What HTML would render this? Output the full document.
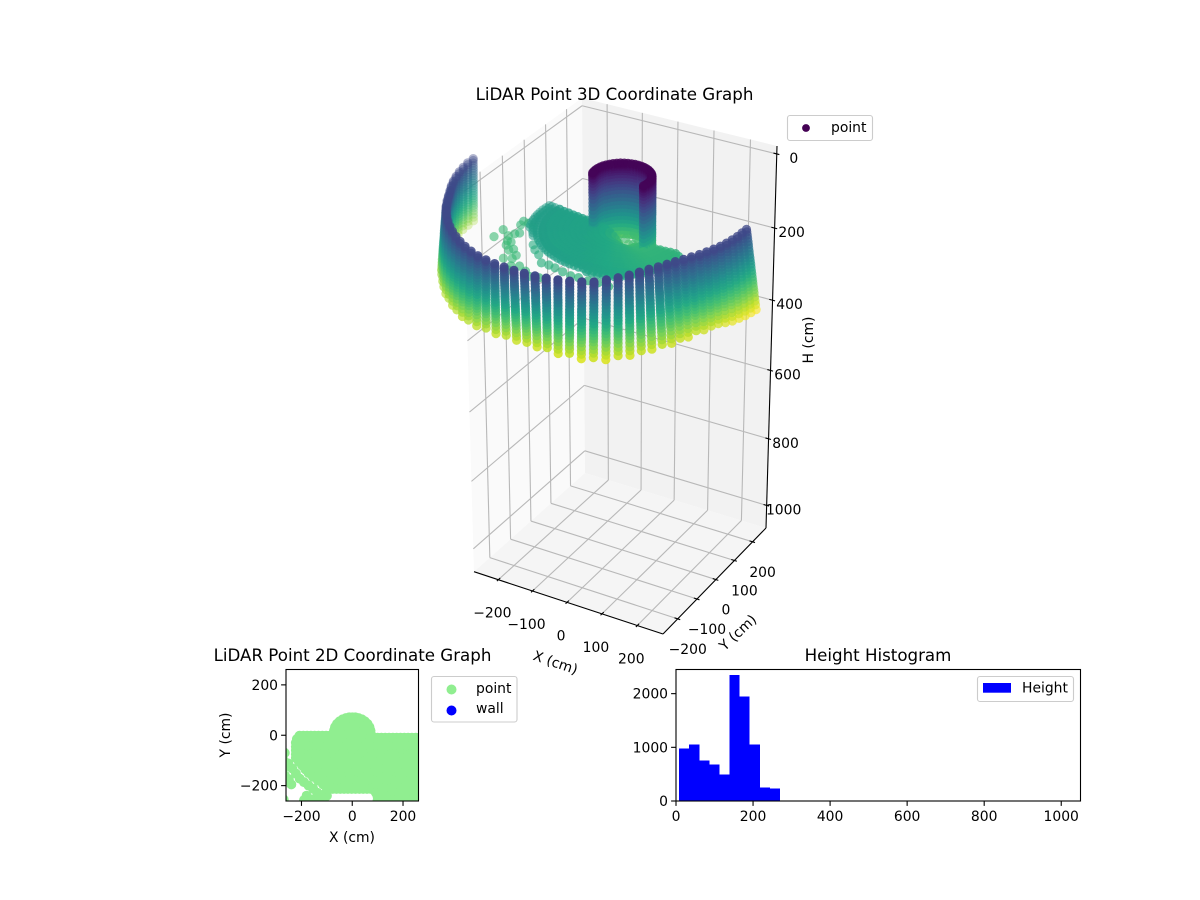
<!DOCTYPE html>
<html>
<head>
<meta charset="utf-8">
<title>LiDAR Point Graphs</title>
<style>
html,body{margin:0;padding:0;background:#fff;width:1200px;height:900px;overflow:hidden}
svg{display:block}
text{font-family:"DejaVu Sans","Liberation Sans",sans-serif;font-size:13.9px;fill:#000}
.title{font-size:16.67px}
</style>
</head>
<body>
<svg id="fig" xmlns="http://www.w3.org/2000/svg" width="1200" height="900" viewBox="0 0 1200 900">
  <defs>
    <clipPath id="clip2d"><rect x="286" y="669.5" width="132.5" height="131.5"/></clipPath>
  </defs>
  <g id="g3d"></g>
  <text class="title" x="614.5" y="100" text-anchor="middle">LiDAR Point 3D Coordinate Graph</text>
  <text text-anchor="middle" transform="translate(554,667) rotate(19)">X (cm)</text>
  <text text-anchor="middle" transform="translate(741,636) rotate(-43)">Y (cm)</text>
  <text text-anchor="middle" transform="translate(813,340) rotate(-90)">H (cm)</text>
  <g>
    <rect x="787.5" y="115.5" width="85" height="25" rx="2.5" fill="#fff" fill-opacity="0.8" stroke="#ccc" stroke-width="1.1"/>
    <circle cx="806" cy="128" r="3.9" fill="#440154"/>
    <text x="831" y="132">point</text>
  </g>

  <g id="g2d"></g>
  <text class="title" x="352.5" y="661" text-anchor="middle">LiDAR Point 2D Coordinate Graph</text>
  <text x="352" y="842" text-anchor="middle">X (cm)</text>
  <text text-anchor="middle" transform="translate(230,735) rotate(-90)">Y (cm)</text>
  <g>
    <rect x="431.5" y="676.5" width="85.5" height="45.5" rx="2.5" fill="#fff" stroke="#ccc" stroke-width="1.1"/>
    <circle cx="451.5" cy="689.5" r="5" fill="#90ee90"/>
    <text x="476" y="693">point</text>
    <circle cx="451.5" cy="710.5" r="5" fill="#0000ff"/>
    <text x="476" y="713">wall</text>
  </g>

  <g id="ghist"></g>
  <text class="title" x="878" y="661" text-anchor="middle">Height Histogram</text>
  <g>
    <rect x="977.5" y="676.5" width="96" height="25" rx="2.5" fill="#fff" fill-opacity="0.8" stroke="#ccc" stroke-width="1.1"/>
    <rect x="983" y="683" width="28" height="9.7" fill="#0000ff"/>
    <text x="1022" y="692.5">Height</text>
  </g>
</svg>
<script>
// ---------- chart data ----------
const tickValuesX = [-200, -100, 0, 100, 200];
const tickValuesY = [-200, -100, 0, 100, 200];
const tickValuesH = [0, 200, 400, 600, 800, 1000];
const limX3d = [-272, 272];
const limY3d = [-275, 275];
const limH3d = [-21, 1069];

// wall: one vertical scan column per azimuth
const wallAzimuths = [-180,-176.4,-172.8,-169.2,-165.6,-162,-158.4,-154.8,-151.2,-147.6,-144,-140.4,-136.8,-133.2,-129.6,-126,-122.4,-118.8,-115.2,-111.6,-108,-104.4,-100.8,-97.2,-93.6,-90,-86.4,-82.8,-79.2,-75.6,-72,-68.4,-64.8,-61.2,-57.6,-54,-50.4,-46.8,-43.2,-39.6,-36,-32.4,-28.8,-25.2,-21.6,-18,-14.4,-10.8,-7.2,-3.6,0];
const wallRangeTop = [420,420,419,418,417,416,415,414,415,417,420,422,425,428,431,434,437,440,443,445,447,447,447,446,446,445,445,444,442,440,437,433,420,408,396,383,372,365,358,352,349,346,345,343,342,341,340,339,338,337,337];
const wallRangeBottom = [424,424,425,426,426,427,428,429,431,433,436,438,440,443,446,448,451,454,456,458,456,452,448,444,441,440,441,444,447,449,450,450,446,440,432,423,412,405,396,386,378,372,368,365,363,362,363,364,365,366,367];
const wallHeightTop = [65];
const wallHeightBottom = [236,236,236,236,234,232,230,230,232,232,236,234,238,238,242,240,244,242,246,242,246,242,248,244,250,248,252,246,254,248,258,252,258,250,254,248,252,246,252,248,254,246,252,250,252,258,262,264,266,268,270];
const wallRowFractions = [0,0.03,0.07,0.11,0.15,0.19,0.23,0.27,0.31,0.35,0.39,0.43,0.47,0.51,0.55,0.59,0.63,0.67,0.71,0.75,0.79,0.84,0.89,0.94,1];

// floor fan
const floorAzimuths = [-187.2,-183.6,-180,-176.4,-172.8,-169.2,-165.6,-162,-158.4,-154.8,-151.2,-147.6,-144,-140.4,-136.8,-133.2,-129.6,-126,-122.4,-118.8,-115.2,-111.6,-108,-104.4,-100.8,-97.2,-93.6,-90,-86.4,-82.8,-79.2,-75.6,-72,-68.4,-64.8,-61.2,-57.6,-54,-50.4,-46.8,-43.2,-39.6,-36,-32.4,-28.8,-25.2,-21.6,-18,-14.4,-10.8,-7.2,-3.6,0];
const floorOuterRange = [224,225,225,225,224,224,224,224,224,222,218,216,214,212,212,212,212,212,212,212,212,212,212,212,212,212,212,212,212,214,214,214,216,216,216,214,212,208,202,196,192,188,186,184,182,180,178,176,174,172,168,162,156];
const floorBaseHeight = [155,155,155,155,155,155,155,155,155,155,155,155,156,156,156,156,157,157,157,157,157,157,158,158,158,159,159,160,160,161,162,163,164,165,166,167,168,169,170,171,172,173,174,174,175,175,175,175,175,175,175,175,175];
const floorRingRanges = [3,8,14,20,26,36,50,64,78,92,106,120,134,148,162,176,190,204,214,222,228];
const floorRingLift = [48,42,34,28,22,15,10,7,6,5,4,4,3,3,2,2,0,0,0,0,0];

// sparse scatter beyond the floor, plus the bright patch where the cylinder meets the floor
const sparseX = [-283,-285,-257,-255,-241,-245,-235,-255,-243,-234,-230,-205,-215,-183,-185,-206,-168,-162,-148,-122,-101,-75,-162,-145,-126,-101,-80,-62,-36,-12,9,37,62,91,-5,17,-23,10,30,-10,5,25];
const sparseY = [-86,-125,-33,-50,-36,-94,-88,-107,-131,-151,-135,-164,-170,-188,-203,-209,-236,-257,-230,-245,-263,-260,-144,-164,-178,-207,-207,-209,-217,-221,-220,-222,-219,-220,28,41,17,15,30,5,50,10];
const sparseH = [186,188,180,182,180,184,182,186,186,186,184,184,186,184,186,188,186,186,184,184,184,182,170,170,172,174,174,176,176,178,178,178,178,180,190,190,190,195,190,195,185,190];

// central cylinder
const cylinderAzimuths = [-14.4,-7.2,0,7.2,14.4,21.6,28.8,36,43.2,50.4,57.6,64.8,72,79.2,86.4,93.6,100.8,108,115.2,122.4,129.6,136.8,144,151.2,158.4,165.6,172.8,180,187.2,194.4];
const cylinderRange = [72];
const cylinderHeights = [10,14,18,24,30,38,46,54,62,70,80,90,100,110,120,130,140,150,160,170,180,190,200];

// 2D plan view: horizontal runs of points
const planRowY = [-2,-10,-15,-30,-45,-60,-75,-90,-105,-120,-135,-150,-165,-180,-195,-213,-228,-243,-258,-280,-228,-240];
const planRowStartX = [-208,85,-218,-222,-222,-222,-222,-222,-210,-197,-185,-172,-155,-135,-115,-92,93,100,100,-150,-104,-100];
const planRowEndX = [85,290,290,290,290,290,290,290,290,290,290,290,290,290,290,290,290,290,290,290,-95,-95];
const planColumnStep = [15];
const planBumpX = [-72,-68,-60,-50,-38,-25,-12,0,12,25,38,50,60,68,72,0,-40,40,-20,20,-50,-25,25,50,-30,30,-10,10,-55,55];
const planBumpY = [18,32,45,55,63,68,71,71,71,68,63,55,45,32,18,40,30,30,20,20,20,40,45,30,50,52,25,25,35,38];
const planExtraX = [-266,-270,-270,-252,-236,-222,-207,-190,-172,-154,-138,-121,-265,-250,-240,-180,-160,-140,-190,-270];
const planExtraY = [-70,-100,-130,-112,-132,-152,-172,-186,-200,-212,-228,-244,-160,-175,-195,-240,-255,-260,-258,-255];
const ticks2dX = [-200, 0, 200];
const ticks2dY = [-200, 0, 200];
const lim2d = [-261, 261];

// histogram
const histEdges = [8,34.2,60.4,86.6,112.8,139,165.2,191.4,217.6,243.8,270];
const histCounts = [975,1050,750,677,490,2352,1943,1050,248,230];
const histTicksX = [0,200,400,600,800,1000];
const histTicksY = [0,1000,2000];
const histLimX = [0,1050];
const histLimY = [0,2450];

// colour map stops
const viridisStops = ['#440154','#482475','#414487','#355f8d','#2a788e','#21918c','#22a884','#44bf70','#7ad151','#bddf26','#fde725'];
const colorRangeH = [8,272];

// ---------- projection (box corners on screen) ----------
const NS = 'http://www.w3.org/2000/svg';
const CORNER = {
  // [x index][y index][h index]: h index 0 = top (low H); third value is camera depth weight
  '000':[463,184,0.951], '100':[665,237,0.919], '110':[777,146,0.975], '010':[582,98,1.006],
  '001':[474,571.7,1.026],'101':[663,634,0.994],'111':[766,528,1.049],'011':[585,473,1.081]
};
function project(x,y,h){
  const u=(x-limX3d[0])/(limX3d[1]-limX3d[0]);
  const v=(y-limY3d[0])/(limY3d[1]-limY3d[0]);
  const t=(h-limH3d[0])/(limH3d[1]-limH3d[0]);
  let sx=0,sy=0,sw=0;
  for(const a of [0,1])for(const b of [0,1])for(const c of [0,1]){
    const n=(a?u:1-u)*(b?v:1-v)*(c?t:1-t);
    const k=CORNER[''+a+b+c];
    sx+=n*k[2]*k[0];sy+=n*k[2]*k[1];sw+=n*k[2];
  }
  return [sx/sw,sy/sw];
}
function mk(tag,parent){const e=document.createElementNS(NS,tag);parent.appendChild(e);return e;}
function segment(parent,p,q,color,width){
  const l=mk('line',parent);
  l.setAttribute('x1',p[0].toFixed(2));l.setAttribute('y1',p[1].toFixed(2));
  l.setAttribute('x2',q[0].toFixed(2));l.setAttribute('y2',q[1].toFixed(2));
  l.setAttribute('stroke',color);l.setAttribute('stroke-width',width);
  return l;
}
function label(parent,str,x,y,anchor){
  const t=mk('text',parent);
  t.setAttribute('x',x.toFixed(2));t.setAttribute('y',y.toFixed(2));
  t.setAttribute('text-anchor',anchor);
  t.textContent=String(str).replace('-','\u2212');
  return t;
}
function viridis(h){
  let f=(h-colorRangeH[0])/(colorRangeH[1]-colorRangeH[0]);
  f=Math.max(0,Math.min(1,f))*(viridisStops.length-1);
  const i=Math.min(viridisStops.length-2,Math.floor(f)),r=f-i;
  const a=viridisStops[i],b=viridisStops[i+1],out=[];
  for(const s of [1,3,5]){
    const p=parseInt(a.substr(s,2),16),q=parseInt(b.substr(s,2),16);
    out.push(Math.round(p+(q-p)*r));
  }
  return 'rgb('+out.join(',')+')';
}

// ---------- 3D axes ----------
const g3=document.getElementById('g3d');
const X0=limX3d[0],X1=limX3d[1],Y0=limY3d[0],Y1=limY3d[1],H0=limH3d[0],H1=limH3d[1];
function pane(name,fill,pts){
  const p=mk('polygon',g3);
  
  
  p.setAttribute('fill',fill);
  p.setAttribute('points',pts.map(q=>q[0].toFixed(1)+','+q[1].toFixed(1)).join(' '));
}
pane('x-pane','#fafafa',[project(X0,Y0,H0),project(X0,Y1,H0),project(X0,Y1,H1),project(X0,Y0,H1)]);
pane('y-pane','#f2f2f2',[project(X0,Y1,H0),project(X1,Y1,H0),project(X1,Y1,H1),project(X0,Y1,H1)]);
pane('floor-pane','#f5f5f5',[project(X0,Y0,H1),project(X1,Y0,H1),project(X1,Y1,H1),project(X0,Y1,H1)]);
const GRID='#b8b8b8',GW=1.1;
tickValuesX.forEach(x=>{
  const a=segment(g3,project(x,Y0,H1),project(x,Y1,H1),GRID,GW);
  
  
  const b=segment(g3,project(x,Y1,H1),project(x,Y1,H0),GRID,GW);
  
  
});
tickValuesY.forEach(y=>{
  const a=segment(g3,project(X1,y,H1),project(X0,y,H1),GRID,GW);
  
  
  const b=segment(g3,project(X0,y,H1),project(X0,y,H0),GRID,GW);
  
  
});
tickValuesH.forEach(h=>{
  const a=segment(g3,project(X0,Y0,h),project(X0,Y1,h),GRID,GW);
  
  
  const b=segment(g3,project(X0,Y1,h),project(X1,Y1,h),GRID,GW);
  
  
});
const axX=segment(g3,project(X0,Y0,H1),project(X1,Y0,H1),'#000',1.1);


const axY=segment(g3,project(X1,Y0,H1),project(X1,Y1,H1),'#000',1.1);


const axH=segment(g3,project(X1,Y1,H0),project(X1,Y1,H1),'#000',1.1);


tickValuesX.forEach(x=>{
  const m=segment(g3,project(x,Y0-7,H1),project(x,Y0+9,H1),'#000',1.1);
  
  
  const p=project(x,Y0,H1);
  const t=label(g3,x,p[0]-6,p[1]+38,'middle');
  
  
});
tickValuesY.forEach(y=>{
  const m=segment(g3,project(X1-9,y,H1),project(X1+7,y,H1),'#000',1.1);
  
  
  const p=project(X1,y,H1);
  const t=label(g3,y,p[0]+10,p[1]+35,'middle');
  
  
});
tickValuesH.forEach(h=>{
  const m=segment(g3,project(X1-9,Y1,h),project(X1+7,Y1,h),'#000',1.1);
  
  
  const p=project(X1,Y1,h);
  const t=label(g3,h,p[0]+17,p[1]+9,'middle');
  
  
});

// ---------- point cloud ----------
const cloud=[];
function polar(az,r){const a=az*Math.PI/180;return [r*Math.cos(a),r*Math.sin(a)];}
wallAzimuths.forEach((az,i)=>{
  wallRowFractions.forEach(f=>{
    const r=wallRangeTop[i]+(wallRangeBottom[i]-wallRangeTop[i])*f;
    const h=wallHeightTop[0]+(wallHeightBottom[i]-wallHeightTop[0])*f;
    const q=polar(az,r);
    cloud.push([q[0],q[1],h,0]);
  });
});
floorAzimuths.forEach((az,i)=>{
  floorRingRanges.forEach((r,k)=>{
    if(r>floorOuterRange[i])return;
    const q=polar(az,r);
    cloud.push([q[0],q[1],floorBaseHeight[i]+floorRingLift[k],r>=200?0.5:0.8]);
  });
});
sparseX.forEach((x,i)=>{cloud.push([x,sparseY[i],sparseH[i],0.6]);});
cylinderAzimuths.forEach(az=>{
  cylinderHeights.forEach(h=>{
    const q=polar(az,cylinderRange[0]);
    cloud.push([q[0],q[1],h,0.85]);
  });
});
function depth(p){return 0.433*p[0]-0.75*p[1]-0.5*p[2];}
let dMin=Infinity,dMax=-Infinity;
cloud.forEach(p=>{const d=depth(p);if(d<dMin)dMin=d;if(d>dMax)dMax=d;});
cloud.sort((a,b)=>depth(a)-depth(b));
const pointsGroup=mk('g',g3);


cloud.forEach(p=>{
  const s=project(p[0],p[1],p[2]);
  const c=mk('circle',pointsGroup);
  
  
  c.setAttribute('cx',s[0].toFixed(1));
  c.setAttribute('cy',s[1].toFixed(1));
  c.setAttribute('r','4.6');
  c.setAttribute('fill',viridis(p[2]));
  c.setAttribute('fill-opacity',Math.max(p[3],0.3+0.7*(depth(p)-dMin)/(dMax-dMin)).toFixed(2));
});

// ---------- 2D plan view ----------
const g2=document.getElementById('g2d');
const ax2={l:286,r:418.5,t:669.5,b:801};
const sx2=v=>ax2.l+(v-lim2d[0])/(lim2d[1]-lim2d[0])*(ax2.r-ax2.l);
const sy2=v=>ax2.b-(v-lim2d[0])/(lim2d[1]-lim2d[0])*(ax2.b-ax2.t);
const plan=mk('g',g2);
plan.setAttribute('clip-path','url(#clip2d)');


function planDot(x,y){
  const c=mk('circle',plan);
  
  
  c.setAttribute('cx',sx2(x).toFixed(1));
  c.setAttribute('cy',sy2(y).toFixed(1));
  c.setAttribute('r','5');
  c.setAttribute('fill','#90ee90');
}
planRowY.forEach((y,i)=>{
  for(let x=planRowStartX[i];x<=planRowEndX[i];x+=planColumnStep[0]){planDot(x,y);}
});
planBumpX.forEach((x,i)=>planDot(x,planBumpY[i]));
planExtraX.forEach((x,i)=>planDot(x,planExtraY[i]));
const frame2=mk('rect',g2);


frame2.setAttribute('x',ax2.l);frame2.setAttribute('y',ax2.t);
frame2.setAttribute('width',ax2.r-ax2.l);frame2.setAttribute('height',ax2.b-ax2.t);
frame2.setAttribute('fill','none');frame2.setAttribute('stroke','#000');frame2.setAttribute('stroke-width','1.1');
ticks2dX.forEach(v=>{
  const m=segment(g2,[sx2(v),ax2.b],[sx2(v),ax2.b+4.9],'#000',1.1);
  
  
  const t=label(g2,v,sx2(v),ax2.b+20,'middle');
  
  
});
ticks2dY.forEach(v=>{
  const m=segment(g2,[ax2.l-4.9,sy2(v)],[ax2.l,sy2(v)],'#000',1.1);
  
  
  const t=label(g2,v,ax2.l-8,sy2(v)+5,'end');
  
  
});

// ---------- histogram ----------
const gh=document.getElementById('ghist');
const axh={l:676,r:1080.5,t:669.5,b:801};
const sxh=v=>axh.l+(v-histLimX[0])/(histLimX[1]-histLimX[0])*(axh.r-axh.l);
const syh=v=>axh.b-(v-histLimY[0])/(histLimY[1]-histLimY[0])*(axh.b-axh.t);
histCounts.forEach((n,i)=>{
  const b=mk('rect',gh);
  
  
  b.setAttribute('x',sxh(histEdges[i]).toFixed(2));
  b.setAttribute('width',(sxh(histEdges[i+1])-sxh(histEdges[i])).toFixed(2));
  b.setAttribute('y',syh(n).toFixed(2));
  b.setAttribute('height',(axh.b-syh(n)).toFixed(2));
  b.setAttribute('fill','#0000ff');
  b.setAttribute('shape-rendering','crispEdges');
});
const frameH=mk('rect',gh);


frameH.setAttribute('x',axh.l);frameH.setAttribute('y',axh.t);
frameH.setAttribute('width',axh.r-axh.l);frameH.setAttribute('height',axh.b-axh.t);
frameH.setAttribute('fill','none');frameH.setAttribute('stroke','#000');frameH.setAttribute('stroke-width','1.1');
histTicksX.forEach(v=>{
  const m=segment(gh,[sxh(v),axh.b],[sxh(v),axh.b+4.9],'#000',1.1);
  
  
  const t=label(gh,v,sxh(v),axh.b+20,'middle');
  
  
});
histTicksY.forEach(v=>{
  const m=segment(gh,[axh.l-4.9,syh(v)],[axh.l,syh(v)],'#000',1.1);
  
  
  const t=label(gh,v,axh.l-8,syh(v)+5,'end');
  
  
});
</script>
</body>
</html>
